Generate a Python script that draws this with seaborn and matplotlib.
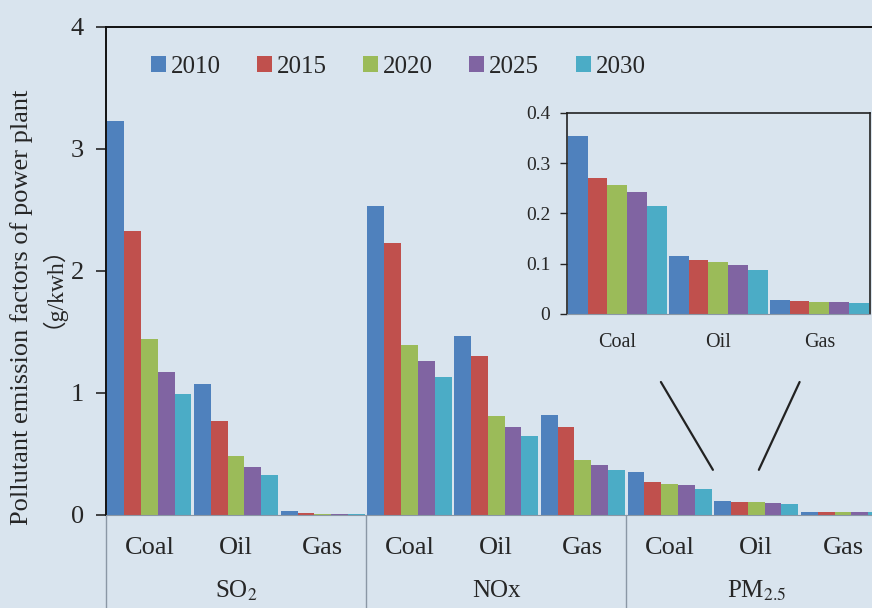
import matplotlib.pyplot as plt
import matplotlib.transforms as mtransforms
import pandas as pd
import seaborn as sns

pollutants = ["SO$_2$", "NOx", "PM$_{2.5}$"]
fuels = ["Coal", "Oil", "Gas"]
years = ["2010", "2015", "2020", "2025", "2030"]
colors = ["#4F81BD", "#C0504D", "#9BBB59", "#8064A2", "#4BACC6"]

# rows: Coal, Oil, Gas; columns: 2010..2030 (g/kwh)
so2 = [[3.23, 2.33, 1.44, 1.17, 0.99],
       [1.07, 0.77, 0.48, 0.39, 0.33],
       [0.03, 0.02, 0.006, 0.006, 0.005]]
nox = [[2.53, 2.23, 1.39, 1.26, 1.13],
       [1.47, 1.30, 0.81, 0.72, 0.65],
       [0.82, 0.72, 0.45, 0.41, 0.37]]
pm25 = [[0.355, 0.270, 0.257, 0.243, 0.215],
        [0.115, 0.108, 0.104, 0.097, 0.087],
        [0.027, 0.026, 0.024, 0.023, 0.021]]

rows = []
for p, table in zip(pollutants, [so2, nox, pm25]):
    for f, vals in zip(fuels, table):
        for y, v in zip(years, vals):
            rows.append({"pollutant": p, "fuel": f, "group": p + "|" + f, "year": y, "value": v})
df = pd.DataFrame(rows)
order = list(dict.fromkeys(df["group"]))

bg = "#d9e4ee"
sns.set_style("ticks")
plt.rcParams["font.family"] = ["Liberation Serif", "Noto Sans CJK SC"]
plt.rcParams["mathtext.fontset"] = "stix"

fig = plt.figure(figsize=(8.72, 6.08), dpi=100, facecolor=bg)
ax = fig.add_axes([0.1216, 0.153, 0.8784, 0.8026], facecolor=bg)

sns.barplot(data=df, x="group", y="value", hue="year", order=order, hue_order=years,
            palette=colors, saturation=1, width=0.97, linewidth=0, ax=ax)

ax.set_ylim(0, 4)
ax.set_xlim(-0.5, 8.335)
ax.set_yticks([0, 1, 2, 3, 4])
ax.tick_params(axis="y", labelsize=19, length=7, width=1.2, direction="out", pad=9)
ax.set_xticks(range(len(order)))
ax.set_xticklabels([g.split("|")[1] for g in order], fontsize=19)
ax.tick_params(axis="x", length=0, pad=16)
ax.set_xlabel("")
ax.set_ylabel("Pollutant emission factors of power plant", fontsize=19)
ax.yaxis.set_label_coords(-0.096, 0.426)
ax.text(-0.086, 0.492, "（g/kwh）", transform=ax.transAxes, rotation=90, fontsize=17,
        ha="center", va="center", rotation_mode="anchor")
for s in ["left", "top"]:
    ax.spines[s].set_color("#111111")
    ax.spines[s].set_linewidth(1.4)
ax.spines["bottom"].set_color("#8a97a5")
ax.spines["right"].set_visible(False)

# group labels and separators under the axis
trans = mtransforms.blended_transform_factory(ax.transData, ax.transAxes)
for i, p in enumerate(pollutants):
    ax.text(3 * i + 1, -0.155, p, transform=trans, ha="center", va="center", fontsize=18)
    ax.plot([3 * i - 0.5, 3 * i - 0.5], [0, -0.2], transform=trans, color="#8a97a5",
            lw=1, clip_on=False)

leg = ax.legend(loc="center left", bbox_to_anchor=(0.045, 0.918), ncol=5, frameon=False,
                fontsize=18, handlelength=0.6, handleheight=0.6, handletextpad=0.2,
                columnspacing=1.45, borderaxespad=0)

# pointer lines towards the inset
ax.plot([5.9, 6.5], [1.09, 0.37], color="#222222", lw=1.6)
ax.plot([7.5, 7.03], [1.09, 0.37], color="#222222", lw=1.6)

# inset with PM2.5
axin = fig.add_axes([0.650, 0.4836, 0.3475, 0.3306], facecolor=bg)
sub = df[df["pollutant"] == pollutants[2]]
sns.barplot(data=sub, x="fuel", y="value", hue="year", order=fuels, hue_order=years,
            palette=colors, saturation=1, width=0.98, linewidth=0, legend=False, ax=axin)
axin.set_ylim(0, 0.4)
axin.set_xlim(-0.5, 2.5)
axin.set_yticks([0, 0.1, 0.2, 0.3, 0.4])
axin.set_yticklabels(["0", "0.1", "0.2", "0.3", "0.4"])
axin.tick_params(axis="y", labelsize=14, length=5, width=1, pad=7)
axin.tick_params(axis="x", labelsize=14.5, length=0, pad=14)
axin.set_xlabel("")
axin.set_ylabel("")
for s in ["left", "top", "right"]:
    axin.spines[s].set_color("#222222")
    axin.spines[s].set_linewidth(1.2)
axin.spines["bottom"].set_color("#8a97a5")

fig.savefig("out.png", dpi=100, facecolor=bg)
